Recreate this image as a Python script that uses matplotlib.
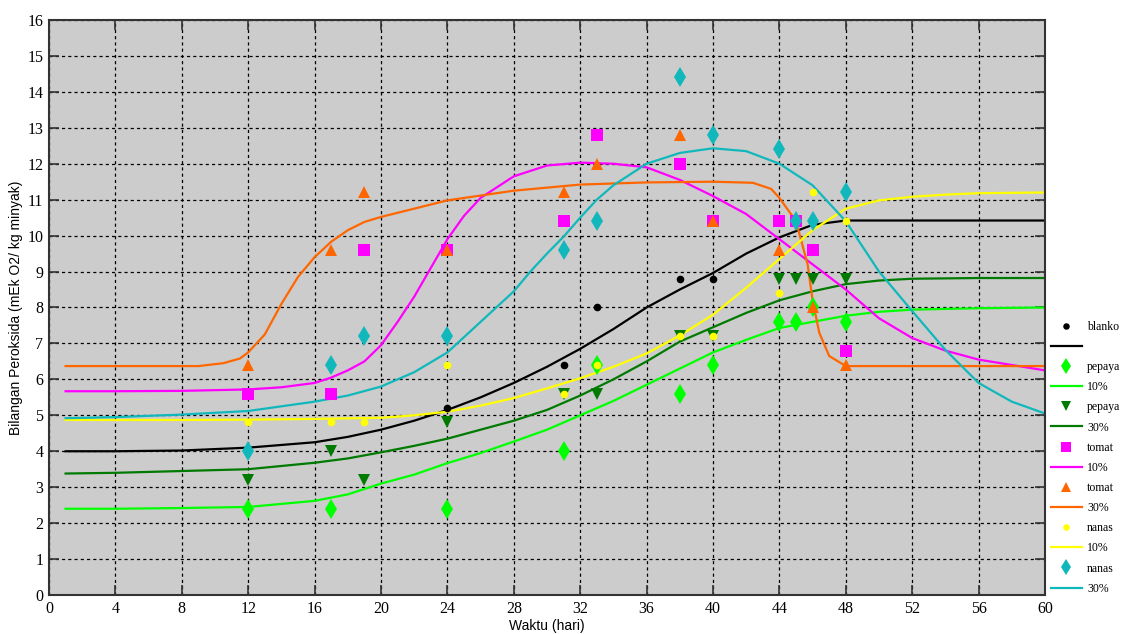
import matplotlib
matplotlib.use("Agg")
import matplotlib.pyplot as plt
from matplotlib.lines import Line2D

# ---- Measured points ----
blanko_x = [24, 31, 33, 38, 40]
blanko_y = [5.2, 6.4, 8.0, 8.8, 8.8]

pepaya10_x = [12, 17, 24, 31, 33, 38, 40, 44, 45, 46, 48]
pepaya10_y = [2.4, 2.4, 2.4, 4.0, 6.4, 5.6, 6.4, 7.6, 7.6, 8.0, 7.6]

pepaya30_x = [12, 17, 19, 24, 31, 33, 38, 40, 44, 45, 46, 48]
pepaya30_y = [3.2, 4.0, 3.2, 4.8, 5.6, 5.6, 7.2, 7.2, 8.8, 8.8, 8.8, 8.8]

tomat10_x = [12, 17, 19, 24, 31, 33, 38, 40, 44, 45, 46, 48]
tomat10_y = [5.6, 5.6, 9.6, 9.6, 10.4, 12.8, 12.0, 10.4, 10.4, 10.4, 9.6, 6.8]

tomat30_x = [12, 17, 19, 24, 31, 33, 38, 40, 44, 46, 48]
tomat30_y = [6.4, 9.6, 11.2, 9.6, 11.2, 12.0, 12.8, 10.4, 9.6, 8.0, 6.4]

nanas10_x = [12, 17, 19, 24, 31, 33, 38, 40, 44, 46, 48]
nanas10_y = [4.8, 4.8, 4.8, 6.4, 5.6, 6.4, 7.2, 7.2, 8.4, 11.2, 10.4]

nanas30_x = [12, 17, 19, 24, 31, 33, 38, 40, 44, 45, 46, 48]
nanas30_y = [4.0, 6.4, 7.2, 7.2, 9.6, 10.4, 14.4, 12.8, 12.4, 10.4, 10.4, 11.2]

# ---- Fitted curves ----
curve_x = [1, 4, 8, 12, 16, 18, 20, 22, 24, 26, 28, 30, 32, 34, 36, 38, 40,
           42, 44, 46, 48, 50, 52, 56, 60]
blanko_cy = [4.0, 4.0, 4.02, 4.1, 4.25, 4.4, 4.6, 4.85, 5.15, 5.5, 5.9, 6.35,
             6.85, 7.4, 8.0, 8.5, 8.96, 9.5, 9.95, 10.3, 10.42, 10.42, 10.42,
             10.42, 10.42]
pepaya10_cy = [2.4, 2.4, 2.42, 2.45, 2.62, 2.8, 3.1, 3.35, 3.67, 3.95, 4.27,
               4.6, 5.0, 5.4, 5.85, 6.3, 6.75, 7.1, 7.43, 7.6, 7.77, 7.88,
               7.94, 7.98, 8.0]
pepaya30_cy = [3.38, 3.4, 3.45, 3.5, 3.68, 3.8, 3.97, 4.15, 4.35, 4.6, 4.85,
               5.15, 5.55, 6.0, 6.5, 7.05, 7.45, 7.85, 8.2, 8.45, 8.65, 8.75,
               8.8, 8.82, 8.82]

tomat10_cx = [1, 4, 8, 12, 14, 16, 17, 18, 19, 20, 21, 22, 23, 24, 25, 26, 28,
              30, 32, 34, 36, 38, 40, 42, 44, 46, 48, 50, 52, 54, 56, 58, 60]
tomat10_cy = [5.67, 5.67, 5.68, 5.72, 5.78, 5.9, 6.05, 6.25, 6.5, 6.95, 7.6,
              8.3, 9.1, 9.9, 10.55, 11.05, 11.65, 11.95, 12.03, 12.0, 11.9,
              11.55, 11.1, 10.6, 9.9, 9.2, 8.5, 7.7, 7.15, 6.8, 6.55, 6.4, 6.25]

tomat30_cx = [1, 9, 10.5, 11.5, 12, 13, 14, 15, 16, 17, 18, 19, 20, 22, 24, 28,
              32, 36, 40, 42.4, 43.5, 44, 45, 45.7, 46, 46.4, 47, 48, 60]
tomat30_cy = [6.37, 6.37, 6.45, 6.58, 6.75, 7.25, 8.1, 8.85, 9.4, 9.83, 10.15,
              10.38, 10.52, 10.75, 10.98, 11.25, 11.42, 11.48, 11.5, 11.47,
              11.3, 11.05, 10.4, 9.2, 8.2, 7.3, 6.65, 6.37, 6.37]

nanas10_cx = [1, 8, 12, 16, 20, 22, 24, 26, 28, 30, 32, 34, 36, 38, 40, 42, 44,
              46, 48, 50, 52, 54, 56, 60]
nanas10_cy = [4.87, 4.87, 4.88, 4.9, 4.93, 5.0, 5.1, 5.27, 5.48, 5.75, 6.03,
              6.35, 6.72, 7.22, 7.8, 8.55, 9.35, 10.15, 10.75, 10.98, 11.08,
              11.14, 11.18, 11.2]

nanas30_cx = [1, 4, 8, 12, 16, 18, 20, 22, 24, 26, 28, 29, 30, 31, 32, 33, 34,
              36, 38, 40, 42, 44, 46, 48, 50, 52, 54, 56, 58, 60]
nanas30_cy = [4.92, 4.95, 5.02, 5.12, 5.38, 5.55, 5.8, 6.2, 6.75, 7.6, 8.45,
              9.0, 9.5, 9.97, 10.5, 11.0, 11.4, 12.0, 12.3, 12.43, 12.35, 12.0,
              11.4, 10.4, 9.0, 7.9, 6.82, 5.9, 5.38, 5.05]

x_ticks = list(range(0, 61, 4))
y_ticks = list(range(0, 17))

# ---- Series styling ----
series = [
    # name, pct, pts x, pts y, curve x, curve y, colour, marker, ms
    ("blanko", "", blanko_x, blanko_y, curve_x, blanko_cy, "#000000", "o", 5.5),
    ("pepaya", "10%", pepaya10_x, pepaya10_y, curve_x, pepaya10_cy, "#00ff00", "d", 10),
    ("pepaya", "30%", pepaya30_x, pepaya30_y, curve_x, pepaya30_cy, "#007a00", "v", 8.5),
    ("tomat", "10%", tomat10_x, tomat10_y, tomat10_cx, tomat10_cy, "#ff00ff", "s", 8),
    ("tomat", "30%", tomat30_x, tomat30_y, tomat30_cx, tomat30_cy, "#ff6600", "^", 8.5),
    ("nanas", "10%", nanas10_x, nanas10_y, nanas10_cx, nanas10_cy, "#ffff00", "o", 5.5),
    ("nanas", "30%", nanas30_x, nanas30_y, nanas30_cx, nanas30_cy, "#10b8bc", "d", 10),
]

fig = plt.figure(figsize=(11.29, 6.34), dpi=100)
ax = fig.add_axes([0.0434, 0.0615, 0.8822, 0.907])
ax.set_facecolor("#cccccc")

for name, pct, px, py, cx, cy, col, mk, ms in series:
    ax.plot(cx, cy, color=col, lw=1.6, zorder=2)
for name, pct, px, py, cx, cy, col, mk, ms in series:
    ax.plot(px, py, linestyle="none", marker=mk, color=col, markersize=ms,
            markeredgewidth=0, zorder=3)

ax.set_xlim(0, 60)
ax.set_ylim(0, 16)
ax.set_xticks(x_ticks)
ax.set_yticks(y_ticks)
ax.grid(True, color="black", linestyle=(0, (2.5, 2.5)), linewidth=0.9, zorder=1)
ax.set_axisbelow(True)
ax.tick_params(direction="in", length=7, width=1.2, color="#333333",
               top=True, right=True, labelsize=11.5, pad=4)
for lab in ax.get_xticklabels() + ax.get_yticklabels():
    lab.set_family("Liberation Serif")
for sp in ax.spines.values():
    sp.set_color("#333333")
    sp.set_linewidth(1.5)

ax.set_xlabel("Waktu (hari)", fontsize=10, family="Liberation Sans", labelpad=2)
ax.set_ylabel("Bilangan Peroksida (mEk O2/ kg minyak)", fontsize=10,
              family="Liberation Sans", labelpad=3)

# legend: marker row with name, line row with percentage
handles, labels = [], []
for name, pct, px, py, cx, cy, col, mk, ms in series:
    handles.append(Line2D([], [], linestyle="none", marker=mk, color=col,
                          markersize=ms * 0.85, markeredgewidth=0))
    labels.append(name)
    handles.append(Line2D([], [], color=col, lw=1.6))
    labels.append(pct)

fig.legend(handles, labels, loc="upper left", bbox_to_anchor=(0.931, 0.494),
           frameon=False, ncol=1, handlelength=2.6, handletextpad=0.45,
           labelspacing=0.69, borderaxespad=0, borderpad=0,
           prop={"family": "Liberation Serif", "size": 8.5})

fig.savefig("out.png", dpi=100, facecolor="white")
